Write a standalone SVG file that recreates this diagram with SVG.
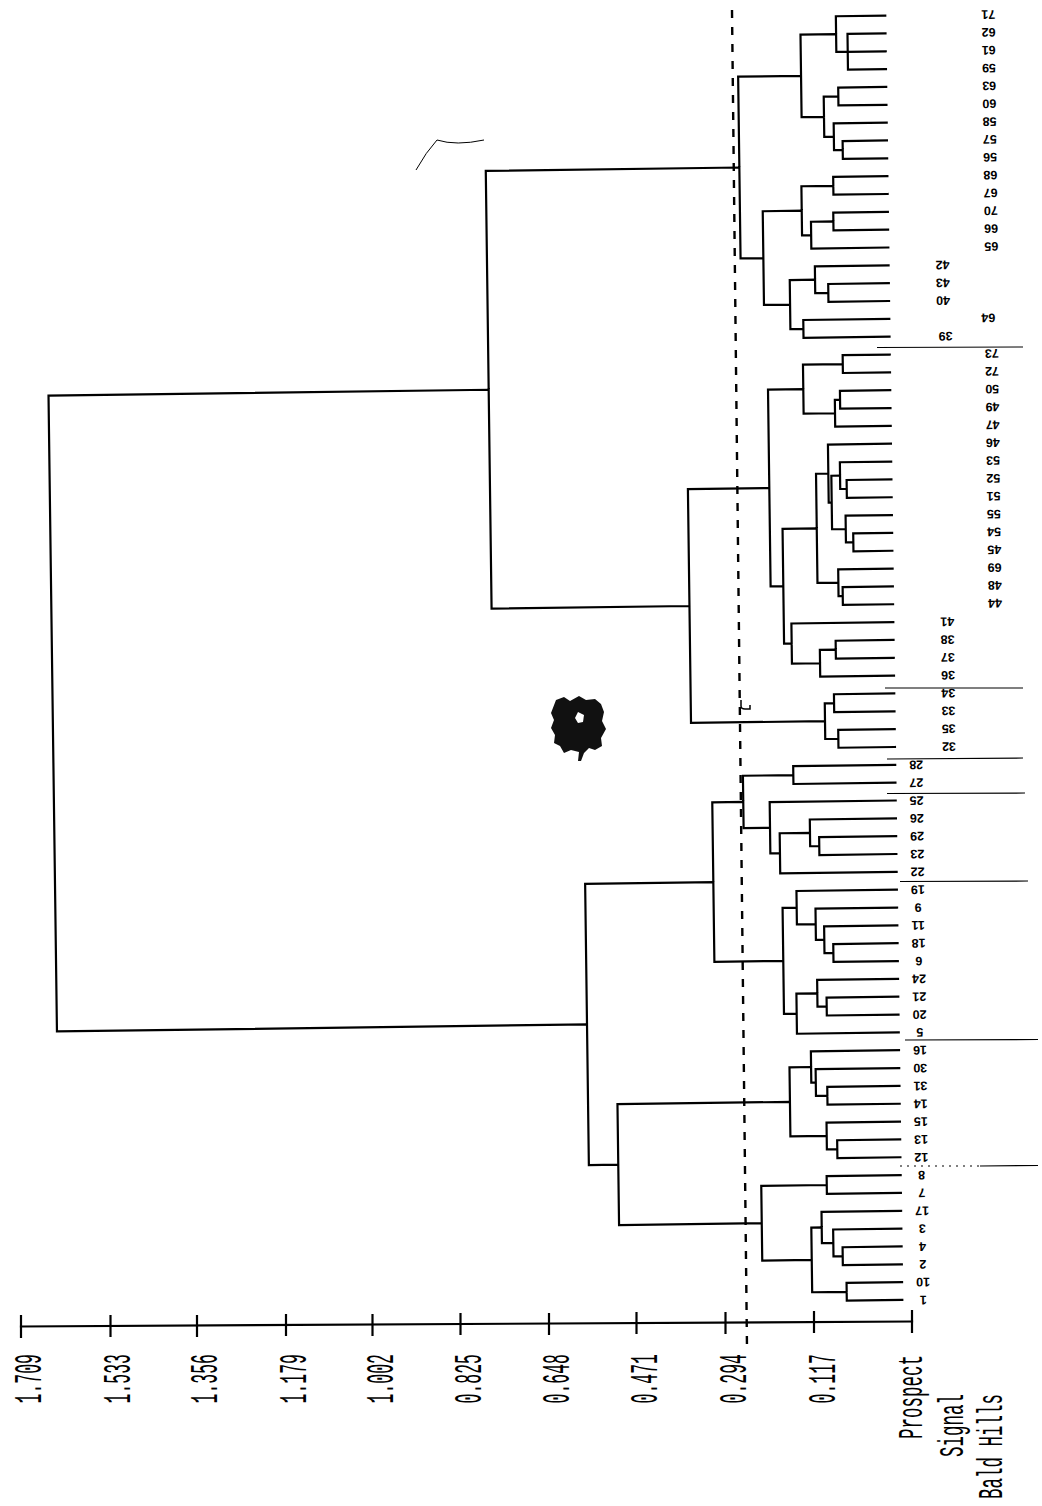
<svg xmlns="http://www.w3.org/2000/svg" width="1042" height="1506" viewBox="0 0 1042 1506">
<style>
.ln{fill:none;stroke:#000;stroke-width:2.2;stroke-linejoin:miter;stroke-linecap:square}
.lb{font-family:"Liberation Sans",Arial,sans-serif;font-size:12.5px;font-weight:bold;fill:#000;text-anchor:middle;dominant-baseline:central}
.ax{font-family:"Liberation Mono","Courier New",monospace;font-size:16.5px;fill:#000;text-anchor:end;dominant-baseline:central}
.lg{font-family:"Liberation Mono","Courier New",monospace;font-size:17.5px;fill:#000;text-anchor:end;dominant-baseline:central}
.sep{stroke:#000;stroke-width:1.2;fill:none}
.dash{stroke:#000;stroke-width:2.4;stroke-dasharray:8 9;fill:none}
</style>
<rect width="1042" height="1506" fill="#fff"/>
<g id="tree" transform="rotate(-0.76 521 753)">
<g id="connectors">
<path class="ln" d="M895 38.34H857V74.02H895M857 56.18H895
M895 20.5H845.6V56.18H857
M895 91.86H847V109.7H895
M895 145.38H850.7V163.22H895
M895 127.54H842V154.3H850.7
M847 100.78H832.4V140.92H842
M845.6 38.34H810V120.85H832.4
M895 181.06H840.8V198.9H895
M895 216.74H840.4V234.58H895
M840.4 225.66H818V252.42H895
M840.8 189.98H808.9V239.04H818
M895 288.1H834.4V305.94H895
M895 270.26H821.3V297.02H834.4
M895 323.78H809V341.62H895
M821.3 283.64H796V332.7H809
M808.9 214.51H769.9V308.17H796
M810 79.6H747.1V261.34H769.9
M895 359.46H847.9V377.3H895
M895 395.14H844.7V412.98H895
M844.7 404.06H839.5V430.82H895
M847.9 368.38H808.1V417.44H839.5
M895 484.34H850.2V502.18H895
M895 466.5H843.7V493.26H850.2
M895 537.86H856.1V555.7H895
M895 520.02H848.7V546.78H856.1
M843.7 479.88H835V533.4H848.7
M895 448.66H832V506.64H835
M895 591.38H844.8V609.22H895
M895 573.54H840.6V600.3H844.8
M832 477.65H819.7V586.92H840.6
M895 644.9H837.1V662.74H895
M837.1 653.82H821.2V680.58H895
M895 627.06H793.1V667.2H821.2
M819.7 532.29H785.5V647.13H793.1
M808.1 392.91H772.8V589.71H785.5
M895 698.42H834.7V716.26H895
M895 734.1H838.5V751.94H895
M834.7 707.34H825.4V743.02H838.5
M772.8 491.31H691.4V725.18H825.4
M747.1 170.47H493.5V608.25H691.4
M895 769.78H793V787.62H895
M895 841.14H818V858.98H895
M895 823.3H808.9V850.06H818
M808.9 836.68H778.6V876.82H895
M895 805.46H769V856.75H778.6
M793 778.7H742.6V831.1H769
M895 948.18H830.7V966.02H895
M895 930.34H821.8V957.1H830.7
M895 912.5H813.4V943.72H821.8
M895 894.66H794.6V928.11H813.4
M895 1001.7H823.3V1019.54H895
M895 983.86H814.1V1010.62H823.3
M814.1 997.24H793.2V1037.38H895
M794.6 911.39H780.5V1017.31H793.2
M742.6 804.9H711.6V964.35H780.5
M895 1090.9H822.8V1108.74H895
M895 1073.06H811.4V1099.82H822.8
M895 1055.22H806.9V1086.44H811.4
M895 1144.42H832V1162.26H895
M895 1126.58H821.6V1153.34H832
M806.9 1070.83H785.3V1139.96H821.6
M895 1180.1H821V1197.94H895
M895 1251.46H836V1269.3H895
M895 1233.62H826.8V1260.38H836
M895 1215.78H815.4V1247H826.8
M895 1287.14H839.5V1304.98H895
M815.4 1231.39H805V1296.06H839.5
M821 1189.02H755.5V1263.73H805
M785.3 1105.4H612.8V1226.37H755.5
M711.6 884.63H583.4V1165.89H612.8
M493.5 389.36H53.3V1025.26H583.4"/>
</g>
<g id="leaves">
<g id="leaf-71"><text class="lb" x="998" y="20.5" transform="rotate(180 998 20.5)">71</text></g>
<g id="leaf-62"><text class="lb" x="998" y="38.34" transform="rotate(180 998 38.34)">62</text></g>
<g id="leaf-61"><text class="lb" x="998" y="56.18" transform="rotate(180 998 56.18)">61</text></g>
<g id="leaf-59"><text class="lb" x="998" y="74.02" transform="rotate(180 998 74.02)">59</text></g>
<g id="leaf-63"><text class="lb" x="998" y="91.86" transform="rotate(180 998 91.86)">63</text></g>
<g id="leaf-60"><text class="lb" x="998" y="109.7" transform="rotate(180 998 109.7)">60</text></g>
<g id="leaf-58"><text class="lb" x="998" y="127.54" transform="rotate(180 998 127.54)">58</text></g>
<g id="leaf-57"><text class="lb" x="998" y="145.38" transform="rotate(180 998 145.38)">57</text></g>
<g id="leaf-56"><text class="lb" x="998" y="163.22" transform="rotate(180 998 163.22)">56</text></g>
<g id="leaf-68"><text class="lb" x="998" y="181.06" transform="rotate(180 998 181.06)">68</text></g>
<g id="leaf-67"><text class="lb" x="998" y="198.9" transform="rotate(180 998 198.9)">67</text></g>
<g id="leaf-70"><text class="lb" x="998" y="216.74" transform="rotate(180 998 216.74)">70</text></g>
<g id="leaf-66"><text class="lb" x="998" y="234.58" transform="rotate(180 998 234.58)">66</text></g>
<g id="leaf-65"><text class="lb" x="998" y="252.42" transform="rotate(180 998 252.42)">65</text></g>
<g id="leaf-42"><text class="lb" x="949" y="270.26" transform="rotate(180 949 270.26)">42</text></g>
<g id="leaf-43"><text class="lb" x="949" y="288.1" transform="rotate(180 949 288.1)">43</text></g>
<g id="leaf-40"><text class="lb" x="949" y="305.94" transform="rotate(180 949 305.94)">40</text></g>
<g id="leaf-64"><text class="lb" x="994" y="323.78" transform="rotate(180 994 323.78)">64</text></g>
<g id="leaf-39"><text class="lb" x="951" y="341.62" transform="rotate(180 951 341.62)">39</text></g>
<g id="leaf-73"><text class="lb" x="997" y="359.46" transform="rotate(180 997 359.46)">73</text></g>
<g id="leaf-72"><text class="lb" x="997" y="377.3" transform="rotate(180 997 377.3)">72</text></g>
<g id="leaf-50"><text class="lb" x="997" y="395.14" transform="rotate(180 997 395.14)">50</text></g>
<g id="leaf-49"><text class="lb" x="997" y="412.98" transform="rotate(180 997 412.98)">49</text></g>
<g id="leaf-47"><text class="lb" x="997" y="430.82" transform="rotate(180 997 430.82)">47</text></g>
<g id="leaf-46"><text class="lb" x="997" y="448.66" transform="rotate(180 997 448.66)">46</text></g>
<g id="leaf-53"><text class="lb" x="997" y="466.5" transform="rotate(180 997 466.5)">53</text></g>
<g id="leaf-52"><text class="lb" x="997" y="484.34" transform="rotate(180 997 484.34)">52</text></g>
<g id="leaf-51"><text class="lb" x="997" y="502.18" transform="rotate(180 997 502.18)">51</text></g>
<g id="leaf-55"><text class="lb" x="997" y="520.02" transform="rotate(180 997 520.02)">55</text></g>
<g id="leaf-54"><text class="lb" x="997" y="537.86" transform="rotate(180 997 537.86)">54</text></g>
<g id="leaf-45"><text class="lb" x="997" y="555.7" transform="rotate(180 997 555.7)">45</text></g>
<g id="leaf-69"><text class="lb" x="997" y="573.54" transform="rotate(180 997 573.54)">69</text></g>
<g id="leaf-48"><text class="lb" x="997" y="591.38" transform="rotate(180 997 591.38)">48</text></g>
<g id="leaf-44"><text class="lb" x="997" y="609.22" transform="rotate(180 997 609.22)">44</text></g>
<g id="leaf-41"><text class="lb" x="949" y="627.06" transform="rotate(180 949 627.06)">41</text></g>
<g id="leaf-38"><text class="lb" x="949" y="644.9" transform="rotate(180 949 644.9)">38</text></g>
<g id="leaf-37"><text class="lb" x="949" y="662.74" transform="rotate(180 949 662.74)">37</text></g>
<g id="leaf-36"><text class="lb" x="949" y="680.58" transform="rotate(180 949 680.58)">36</text></g>
<g id="leaf-34"><text class="lb" x="949" y="698.42" transform="rotate(180 949 698.42)">34</text></g>
<g id="leaf-33"><text class="lb" x="949" y="716.26" transform="rotate(180 949 716.26)">33</text></g>
<g id="leaf-35"><text class="lb" x="949" y="734.1" transform="rotate(180 949 734.1)">35</text></g>
<g id="leaf-32"><text class="lb" x="949" y="751.94" transform="rotate(180 949 751.94)">32</text></g>
<g id="leaf-28"><text class="lb" x="916" y="769.78" transform="rotate(180 916 769.78)">28</text></g>
<g id="leaf-27"><text class="lb" x="916" y="787.62" transform="rotate(180 916 787.62)">27</text></g>
<g id="leaf-25"><text class="lb" x="916" y="805.46" transform="rotate(180 916 805.46)">25</text></g>
<g id="leaf-26"><text class="lb" x="916" y="823.3" transform="rotate(180 916 823.3)">26</text></g>
<g id="leaf-29"><text class="lb" x="916" y="841.14" transform="rotate(180 916 841.14)">29</text></g>
<g id="leaf-23"><text class="lb" x="916" y="858.98" transform="rotate(180 916 858.98)">23</text></g>
<g id="leaf-22"><text class="lb" x="916" y="876.82" transform="rotate(180 916 876.82)">22</text></g>
<g id="leaf-19"><text class="lb" x="916" y="894.66" transform="rotate(180 916 894.66)">19</text></g>
<g id="leaf-9"><text class="lb" x="916" y="912.5" transform="rotate(180 916 912.5)">9</text></g>
<g id="leaf-11"><text class="lb" x="916" y="930.34" transform="rotate(180 916 930.34)">11</text></g>
<g id="leaf-18"><text class="lb" x="916" y="948.18" transform="rotate(180 916 948.18)">18</text></g>
<g id="leaf-6"><text class="lb" x="916" y="966.02" transform="rotate(180 916 966.02)">6</text></g>
<g id="leaf-24"><text class="lb" x="916" y="983.86" transform="rotate(180 916 983.86)">24</text></g>
<g id="leaf-21"><text class="lb" x="916" y="1001.7" transform="rotate(180 916 1001.7)">21</text></g>
<g id="leaf-20"><text class="lb" x="916" y="1019.54" transform="rotate(180 916 1019.54)">20</text></g>
<g id="leaf-5"><text class="lb" x="916" y="1037.38" transform="rotate(180 916 1037.38)">5</text></g>
<g id="leaf-16"><text class="lb" x="916" y="1055.22" transform="rotate(180 916 1055.22)">16</text></g>
<g id="leaf-30"><text class="lb" x="916" y="1073.06" transform="rotate(180 916 1073.06)">30</text></g>
<g id="leaf-31"><text class="lb" x="916" y="1090.9" transform="rotate(180 916 1090.9)">31</text></g>
<g id="leaf-14"><text class="lb" x="916" y="1108.74" transform="rotate(180 916 1108.74)">14</text></g>
<g id="leaf-15"><text class="lb" x="916" y="1126.58" transform="rotate(180 916 1126.58)">15</text></g>
<g id="leaf-13"><text class="lb" x="916" y="1144.42" transform="rotate(180 916 1144.42)">13</text></g>
<g id="leaf-12"><text class="lb" x="916" y="1162.26" transform="rotate(180 916 1162.26)">12</text></g>
<g id="leaf-8"><text class="lb" x="916" y="1180.1" transform="rotate(180 916 1180.1)">8</text></g>
<g id="leaf-7"><text class="lb" x="916" y="1197.94" transform="rotate(180 916 1197.94)">7</text></g>
<g id="leaf-17"><text class="lb" x="916" y="1215.78" transform="rotate(180 916 1215.78)">17</text></g>
<g id="leaf-3"><text class="lb" x="916" y="1233.62" transform="rotate(180 916 1233.62)">3</text></g>
<g id="leaf-4"><text class="lb" x="916" y="1251.46" transform="rotate(180 916 1251.46)">4</text></g>
<g id="leaf-2"><text class="lb" x="916" y="1269.3" transform="rotate(180 916 1269.3)">2</text></g>
<g id="leaf-10"><text class="lb" x="916" y="1287.14" transform="rotate(180 916 1287.14)">10</text></g>
<g id="leaf-1"><text class="lb" x="916" y="1304.98" transform="rotate(180 916 1304.98)">1</text></g>
</g>
</g>
<g id="cutline">
<path class="dash" d="M732 10L747 1348"/>
</g>
<g id="separators">
<path class="sep" d="M877 347.5L1023 347M885 688L1023 688M887 759L1023 758M887 793.5L1025 793M900 881.5L1028 881M905 1040L1038 1039.5M980 1166L1038 1165.5"/>
<path class="sep" d="M900 1166L980 1166" stroke-dasharray="2 5"/>
</g>
<g id="axis">
<path class="ln" d="M21 1326.5L912 1321.5"/>
<path class="ln" d="M21 1316V1337M110.5 1316V1336M197 1316V1336M286 1315V1335M372.5 1315V1335M460.5 1314V1334M549 1314V1334M636.5 1313V1333M725.5 1313V1333M814 1312V1332M912 1311V1332"/>
<text class="ax" transform="translate(31 1354) rotate(-90) scale(1 2.3)">1.709</text>
<text class="ax" transform="translate(120 1354) rotate(-90) scale(1 2.3)">1.533</text>
<text class="ax" transform="translate(207 1354) rotate(-90) scale(1 2.3)">1.356</text>
<text class="ax" transform="translate(296 1354) rotate(-90) scale(1 2.3)">1.179</text>
<text class="ax" transform="translate(383 1354) rotate(-90) scale(1 2.3)">1.002</text>
<text class="ax" transform="translate(471 1354) rotate(-90) scale(1 2.3)">0.825</text>
<text class="ax" transform="translate(559 1354) rotate(-90) scale(1 2.3)">0.648</text>
<text class="ax" transform="translate(647 1354) rotate(-90) scale(1 2.3)">0.471</text>
<text class="ax" transform="translate(736 1354) rotate(-90) scale(1 2.3)">0.294</text>
<text class="ax" transform="translate(825 1354) rotate(-90) scale(1 2.3)">0.117</text>
</g>
<g id="legend">
<text class="lg" transform="translate(913 1355) rotate(-90) scale(1 2)">Prospect</text>
<text class="lg" transform="translate(954 1394) rotate(-90) scale(1 2)">Signal</text>
<text class="lg" transform="translate(993 1394) rotate(-90) scale(1 2)">Bald Hills</text>
</g>
<g id="marks">
<path d="M416 170Q426 152 437 140Q456 146 484 140" fill="none" stroke="#000" stroke-width="1"/>
<path d="M556 700l8-3 6 4 9-5 7 4 9-1 6 5 3 8-2 9 4 8-5 9 1 8-7 4-6-2-5 5-3 8h-3l1-9-8-2-7 3-4-7-6-3 1-8-4-7 3-8-3-7z" fill="#111"/>
<path d="M578 712l6 3-1 7-5 1-3-5z" fill="#fff"/>
<path d="M741 700v6q0 3 4 3h5v-4" fill="none" stroke="#000" stroke-width="1.5"/>
</g>
</svg>
